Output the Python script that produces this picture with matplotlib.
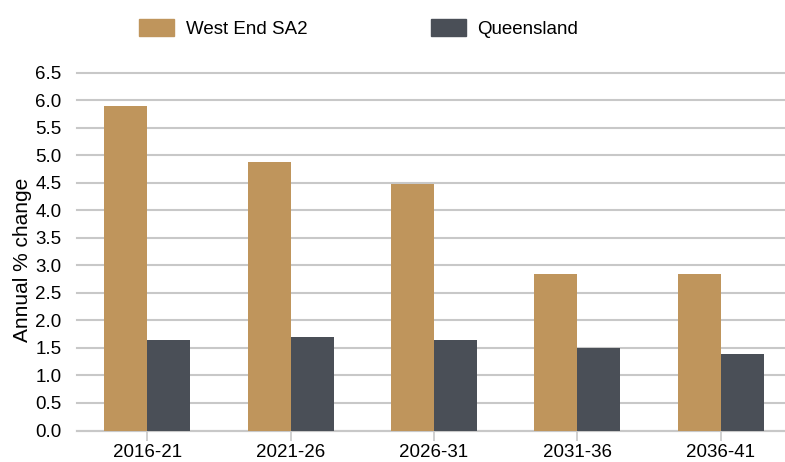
import matplotlib.pyplot as plt
import numpy as np
from matplotlib.patches import Patch

plt.rcParams['font.family'] = ['Liberation Sans', 'DejaVu Sans']

# Data
periods = ['2016-21', '2021-26', '2026-31', '2031-36', '2036-41']
west_end = [5.89, 4.87, 4.47, 2.84, 2.84]
queensland = [1.64, 1.70, 1.64, 1.50, 1.39]

gold = '#BF955C'
dark = '#4A4F57'
grid_c = '#C8C8C8'

fig = plt.figure(figsize=(7.85, 4.62), dpi=100)
ax = fig.add_axes([77/785, 1 - 430.5/462, 1 - 77/785, (430.5 - 72.5)/462])

x = np.arange(len(periods))
w = 0.30
ax.bar(x - w/2, west_end, width=w, color=gold, zorder=3)
ax.bar(x + w/2, queensland, width=w, color=dark, zorder=3)

ax.set_ylim(0, 6.5)
ax.set_xlim(-0.49, 4.45)
ax.set_yticks(np.arange(0, 6.51, 0.5))
ax.set_yticklabels([f'{v:.1f}' for v in np.arange(0, 6.51, 0.5)])
ax.set_xticks(x)
ax.set_xticklabels(periods)
ax.grid(axis='y', color=grid_c, linewidth=1.5, zorder=0)
for l in ax.get_ygridlines():
    l.set_clip_on(False)
for s in ['top', 'right', 'left']:
    ax.spines[s].set_visible(False)
ax.spines['bottom'].set_color(grid_c)
ax.spines['bottom'].set_linewidth(1.5)
ax.tick_params(axis='y', length=0, labelsize=13.5, pad=11)
ax.tick_params(axis='x', length=7, width=1.2, color=grid_c, labelsize=13.5, pad=3)
ax.set_ylabel('Annual % change', fontsize=15)
ax.yaxis.set_label_coords(-45/708, 0.477)

handles = [Patch(color=gold, label='West End SA2'), Patch(color=dark, label='Queensland')]
fig.legend(handles=handles, loc='upper left', bbox_to_anchor=(130/785, 1 - 10/462),
           ncol=2, frameon=False, fontsize=13.5, borderpad=0,
           handlelength=1.87, handleheight=1.0, handletextpad=0.6, columnspacing=6.6)

plt.savefig('out.png', dpi=100)
